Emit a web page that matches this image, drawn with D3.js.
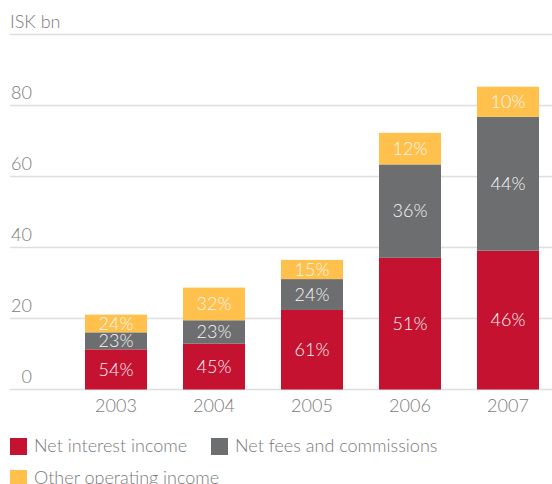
<!DOCTYPE html>
<html>
<head>
<meta charset="utf-8">
<script src="https://cdn.jsdelivr.net/npm/d3@7"></script>
<style>
  html, body { margin: 0; padding: 0; background: #fff; }
  svg { display: block; font-family: "Lato", "Open Sans", "Liberation Sans", sans-serif; }
</style>
</head>
<body>
<svg id="chart" width="552" height="484"></svg>
<script>
// Operating income by source, ISK bn
const years = ["2003", "2004", "2005", "2006", "2007"];
const netInterest = [11.3, 12.9, 22.4, 37.1, 39.1];
const netFees = [4.8, 6.6, 8.7, 26.3, 37.7];
const otherIncome = [5.0, 9.2, 5.4, 8.9, 8.5];
const yTicks = [0, 20, 40, 60, 80, 100];
const seriesNames = ["Net interest income", "Net fees and commissions", "Other operating income"];
const colors = ["#c41230", "#6d6e70", "#ffc14b"];

const svg = d3.select("#chart");
const W = 552;

const rows = years.map((y, i) => ({ year: y, s0: netInterest[i], s1: netFees[i], s2: otherIncome[i] }));
const stack = d3.stack().keys(["s0", "s1", "s2"])(rows);

const x = d3.scaleBand().domain(years).range([67, 557]).paddingInner(0.367).paddingOuter(0.1835);
const y = d3.scaleLinear().domain([0, 100]).range([389.5, 34.5]);

// horizontal gridlines
svg.append("g").selectAll("line").data(yTicks).join("line")
  .attr("x1", 10).attr("x2", W)
  .attr("y1", d => y(d)).attr("y2", d => y(d))
  .attr("stroke", "#dedede").attr("stroke-width", 1.5);

// tick labels (top line carries the unit instead of a number)
svg.append("g").selectAll("text").data(yTicks).join("text")
  .attr("x", d => d === 100 ? 10 : 32)
  .attr("y", d => y(d) - 7)
  .attr("text-anchor", d => d === 100 ? "start" : "end")
  .attr("font-size", 18).attr("font-weight", 300).attr("fill", "#7a7a7a")
  .text(d => d === 100 ? "ISK bn" : d);

// stacked bars
const layers = svg.append("g").selectAll("g").data(stack).join("g")
  .attr("fill", (d, i) => colors[i]);
layers.selectAll("rect").data(d => d).join("rect")
  .attr("x", d => x(d.data.year))
  .attr("width", x.bandwidth())
  .attr("y", d => y(d[1]))
  .attr("height", d => y(d[0]) - y(d[1]));

// share labels inside each segment
layers.selectAll("text").data(d => d).join("text")
  .attr("x", d => x(d.data.year) + x.bandwidth() / 2)
  .attr("y", d => (y(d[0]) + y(d[1])) / 2)
  .attr("dy", "0.35em")
  .attr("text-anchor", "middle")
  .attr("font-size", 18).attr("font-weight", 300).attr("fill", "#f7f7f7")
  .text(d => {
    const total = d.data.s0 + d.data.s1 + d.data.s2;
    return Math.round((d[1] - d[0]) / total * 100) + "%";
  });

// year labels
svg.append("g").selectAll("text").data(years).join("text")
  .attr("x", d => x(d) + x.bandwidth() / 2)
  .attr("y", 412)
  .attr("text-anchor", "middle")
  .attr("font-size", 18).attr("font-weight", 300).attr("fill", "#7a7a7a")
  .text(d => d);

// legend
const legendPos = [[10, 438], [211, 438], [10, 470]];
const legend = svg.append("g").selectAll("g").data(seriesNames).join("g")
  .attr("transform", (d, i) => `translate(${legendPos[i][0]},${legendPos[i][1]})`);
legend.append("rect").attr("width", 17).attr("height", 17).attr("fill", (d, i) => colors[i]);
legend.append("text").attr("x", 24).attr("y", 14)
  .attr("font-size", 18).attr("font-weight", 300).attr("fill", "#7a7a7a")
  .text(d => d);
</script>
</body>
</html>
